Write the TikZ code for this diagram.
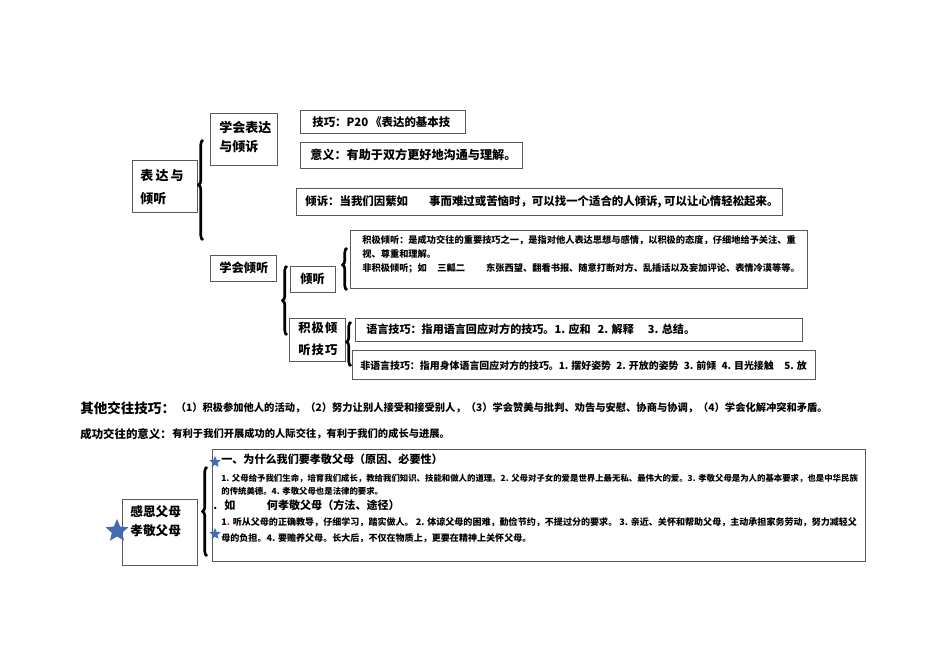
\documentclass[tikz,border=0pt]{standalone}
\usepackage{fontspec}
\setmainfont{Noto Sans CJK SC}
\usetikzlibrary{fit,shapes.geometric,decorations.pathreplacing}
\newcommand\myfs[1]{\fontsize{#1}{#1}\selectfont}
\definecolor{starblue}{RGB}{66,108,178}
\begin{document}
\begin{tikzpicture}[x=0.02cm,y=-0.02cm,
  bx/.style={draw=black!65, line width=0.5pt, inner sep=0pt},
  tx/.style={anchor=west, inner sep=0pt, text=black},
  brc/.style={decorate, decoration={brace, amplitude=2.5pt, aspect=#1}, line width=1.5pt},
  bstar/.style={star, star points=5, star point ratio=2.2, fill=starblue, draw=none, inner sep=0pt}
  ]
\useasboundingbox (0,0) rectangle (950,672);

% ---------- top section boxes ----------
\node[bx, fit={(132,160) (197,212)}] (A) {};
\node[tx, font=\bfseries\myfs{7.4pt}] (A1) at (140,176) {表\,达\,与};
\node[tx, font=\bfseries\myfs{7.4pt}] (A2) at (140,199) {倾听};

\node[bx, fit={(210,113) (277,165)}] (B) {};
\node[tx, font=\bfseries\myfs{7.4pt}] (B1) at (219,128) {学会表达};
\node[tx, font=\bfseries\myfs{7.4pt}] (B2) at (219,147) {与倾诉};

\node[bx, fit={(300,110) (465,133)}] (C) {};
\node[tx, font=\bfseries\myfs{6.5pt}] (C1) at (312,122) {技巧：P20\,《表达的基本技};

\node[bx, fit={(300,142) (522,168)}] (D) {};
\node[tx, font=\bfseries\myfs{6.9pt}] (D1) at (310,155) {意义：有助于双方更好地沟通与理解。};

\node[bx, fit={(296,188) (782,215)}] (E) {};
\node[tx, font=\bfseries\myfs{6.5pt}] (E1) at (305,202) {倾诉：当我们因蘩如\hspace{12pt}事而难过或苦恼时，可以找一个适合的人倾诉, 可以让心情轻松起来。};

\node[bx, fit={(210,255) (276,281)}] (F) {};
\node[tx, font=\bfseries\myfs{7pt}] (F1) at (219,268) {学会倾听};

\node[bx, fit={(290,266) (335,292)}] (G) {};
\node[tx, font=\bfseries\myfs{7pt}] (G1) at (300,279) {倾听};

\node[bx, fit={(289,318) (345,361)}] (H) {};
\node[tx, font=\bfseries\myfs{7pt}] (H1) at (298,328) {积\hspace{0.6pt}极\hspace{0.6pt}倾};
\node[tx, font=\bfseries\myfs{7pt}] (H2) at (298,350) {听\hspace{0.6pt}技\hspace{0.6pt}巧};

\node[bx, fit={(350,230) (807,288)}] (I) {};
\node[tx, font=\bfseries\myfs{5.25pt}] (I1) at (362,240) {积极倾听：是成功交往的重要技巧之一，是指对他人表达思想与感情，以积极的态度，仔细地给予关注、重};
\node[tx, font=\bfseries\myfs{5.25pt}] (I2) at (362,254) {视、尊重和理解。};
\node[tx, font=\bfseries\myfs{5.25pt}] (I3) at (362,268) {非积极倾听；如\hspace{6pt}三瓤二\hspace{12pt}东张西望、翻看书报、随意打断对方、乱插话以及妄加评论、表情冷漠等等。};

\node[bx, fit={(355,318) (802,341)}] (J) {};
\node[tx, font=\bfseries\myfs{6.3pt}] (J1) at (366,329) {语言技巧：指用语言回应对方的技巧。1. 应和\hspace{4pt}2. 解释\hspace{8pt}3. 总结。};

\node[bx, fit={(352,350) (815,379)}] (K) {};
\node[tx, font=\bfseries\myfs{5.65pt}] (K1) at (360,366) {非语言技巧：指用身体语言回应对方的技巧。1. 摆好姿势\hspace{3pt}2. 开放的姿势\hspace{3pt}3. 前倾\hspace{3pt}4. 目光接触\hspace{6pt}5. 放};

% ---------- braces ----------
\draw[brc=0.55] (203,240) -- (203,140);
\draw[brc=0.5] (287,335) -- (287,266);
\draw[brc=0.6] (347,290) -- (347,248);
\draw[brc=0.55] (351,366) -- (351,322);

% ---------- middle text ----------
\node[tx, font=\bfseries\myfs{7.7pt}] (O1) at (80,408) {其他交往技巧：};
\node[tx, font=\bfseries\myfs{5.85pt}, anchor=west] (O2) at (O1.east) {（1）积极参加他人的活动，（2）努力让别人接受和接受别人，（3）学会赞美与批判、劝告与安慰、协商与协调，（4）学会化解冲突和矛盾。};
\node[tx, font=\bfseries\myfs{6.5pt}] (S1) at (80,434) {成功交往的意义：};
\node[tx, font=\bfseries\myfs{5.85pt}, anchor=west] (S2) at (S1.east) {有利于我们开展成功的人际交往，有利于我们的成长与进展。};

% ---------- bottom section ----------
\node[bx, fit={(122,499) (197,565)}] (L) {};
\node[tx, font=\bfseries\myfs{7.2pt}] (L1) at (130,512) {感恩父母};
\node[tx, font=\bfseries\myfs{7.2pt}] (L2) at (130,531) {孝敬父母};
\node[bstar, minimum size=24*0.02cm] (st1) at (117,531) {};

\node[bx, fit={(212,449) (865,561)}] (M) {};
\node[tx, font=\bfseries\myfs{6.3pt}] (M1) at (221,459) {一、为什么我们要孝敬父母（原因、必要性）};
\node[tx, font=\bfseries\myfs{4.78pt}] (M2) at (221,478) {1. 父母给予我们生命，培育我们成长，教给我们知识、技能和做人的道理。2. 父母对子女的爱是世界上最无私、最伟大的爱。3. 孝敬父母是为人的基本要求，也是中华民族};
\node[tx, font=\bfseries\myfs{4.78pt}] (M3) at (221,491) {的传统美德。4. 孝敬父母也是法律的要求。};
\node[tx, font=\bfseries\myfs{6.3pt}] (M4) at (213,505) {.\hspace{4pt}如\hspace{18pt}何孝敬父母（方法、途径）};
\node[tx, font=\bfseries\myfs{5.15pt}] (M5) at (221,522) {1{\color{red}.} 听从父母的正确教导，仔细学习，踏实做人。 2. 体谅父母的困难，勤俭节约，不提过分的要求。 3. 亲近、关怀和帮助父母，主动承担家务劳动，努力减轻父};
\node[tx, font=\bfseries\myfs{5.15pt}] (M6) at (221,538) {母的负担。4. 要赡养父母。长大后，不仅在物质上，更要在精神上关怀父母。};

\draw[brc=0.5] (207,556) -- (207,467);
\node[bstar, minimum size=12*0.02cm] (st2) at (215,462) {};
\node[bstar, minimum size=12*0.02cm] (st3) at (215,534) {};
\end{tikzpicture}
\end{document}
